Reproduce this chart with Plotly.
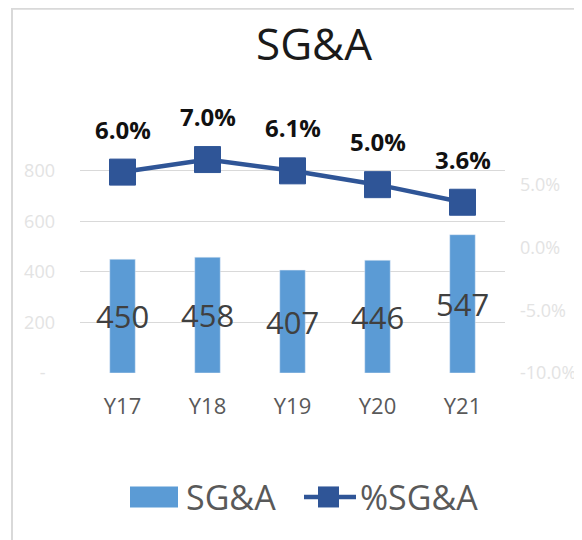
import plotly.graph_objects as go

categories = ["Y17", "Y18", "Y19", "Y20", "Y21"]
sga_values = [450, 458, 407, 446, 547]
sga_pct = [0.060, 0.070, 0.061, 0.050, 0.036]
left_tickvals = [0, 200, 400, 600, 800]
left_ticktext = ["-\u00a0\u00a0", "200", "400", "600", "800"]
right_tickvals = [-0.10, -0.05, 0.0, 0.05]
right_ticktext = ["-10.0%", "-5.0%", "0.0%", "5.0%"]

OFF = 8  # browser body margin
W, H = 582 - OFF, 540 - OFF
PL, PR, PT, PB = 80, 505, 140, 372.7  # plot area in page pixels


def px(x):
    return (x - PL) / (PR - PL)


def py(y):
    return (PB - y) / (PB - PT)


BAR = "#5B9BD5"
LINE = "#2F5597"
FONT = "Open Sans"

left_max = 800 * (PB - PT) / (PB - 170.7)
right_min = -0.10
right_max = -0.10 + (PB - PT) / ((PB - 184.6) / 0.15)

fig = go.Figure()
fig.add_trace(go.Bar(
    x=categories, y=sga_values, name="SG&A", marker_color=BAR,
    width=0.3, yaxis="y", showlegend=False,
))
fig.add_trace(go.Scatter(
    x=categories, y=sga_pct, name="%SG&A", yaxis="y2", mode="lines+markers",
    line=dict(color=LINE, width=4.5),
    marker=dict(symbol="square", size=26, color=LINE, line=dict(color=LINE, width=1)),
    cliponaxis=False, showlegend=False,
))

annotations = []
for c, v in zip(categories, sga_values):
    annotations.append(dict(
        x=c, y=v / 2, xref="x", yref="y", text=str(v), showarrow=False,
        font=dict(family=FONT, size=31, color="#404040"),
    ))
for c, p in zip(categories, sga_pct):
    annotations.append(dict(
        x=c, y=p, xref="x", yref="y2", text=f"<b>{p*100:.1f}%</b>", showarrow=False,
        yshift=43, font=dict(family=FONT, size=24, color="#111111"),
    ))

# custom legend
annotations.append(dict(
    x=px(184), y=py(496.5), xref="paper", yref="paper", xanchor="left", yanchor="middle",
    text="SG&A", showarrow=False, font=dict(family=FONT, size=34, color="#595959"),
))
annotations.append(dict(
    x=px(358), y=py(496.5), xref="paper", yref="paper", xanchor="left", yanchor="middle",
    text="%SG&A", showarrow=False, font=dict(family=FONT, size=34, color="#595959"),
))

shapes = [
    # outer border
    dict(type="rect", xref="paper", yref="paper", x0=px(12), x1=px(620), y0=py(9), y1=py(600),
         line=dict(color="#D9D9D9", width=2), fillcolor="rgba(0,0,0,0)", layer="below"),
    # legend swatches
    dict(type="rect", xref="paper", yref="paper", x0=px(130), x1=px(178), y0=py(507), y1=py(486),
         line=dict(width=0), fillcolor=BAR),
    dict(type="line", xref="paper", yref="paper", x0=px(304), x1=px(356), y0=py(496.5), y1=py(496.5),
         line=dict(color=LINE, width=4.5)),
    dict(type="rect", xref="paper", yref="paper", x0=px(318), x1=px(339), y0=py(507), y1=py(486),
         line=dict(width=0), fillcolor=LINE),
]

fig.update_layout(
    width=W, height=H,
    margin=dict(l=PL - OFF, r=582 - PR, t=PT - OFF, b=540 - PB, pad=0, autoexpand=False),
    paper_bgcolor="white", plot_bgcolor="white",
    font=dict(family=FONT),
    title=dict(text="SG&A", x=px(314), xref="paper", xanchor="center",
               y=1 - (45 - OFF) / H, yref="container", yanchor="middle",
               font=dict(family=FONT, size=44, color="#1a1a1a"), automargin=False),
    xaxis=dict(
        type="category", showgrid=False, zeroline=False, showline=False, ticks="",
        tickfont=dict(family=FONT, size=22, color="#595959"), ticklabelstandoff=18,
        range=[-0.5, 4.5], automargin=False,
    ),
    yaxis=dict(
        range=[0, left_max], tickvals=left_tickvals, ticktext=left_ticktext,
        showgrid=True, gridcolor="#D9D9D9", gridwidth=1, zeroline=False, showline=False,
        ticks="", tickfont=dict(family=FONT, size=18, color="#E3E3E3"),
        ticklabelstandoff=24, automargin=False,
    ),
    yaxis2=dict(
        range=[right_min, right_max], tickvals=right_tickvals, ticktext=right_ticktext,
        overlaying="y", side="right", showgrid=False, zeroline=False, showline=False,
        ticks="", tickfont=dict(family=FONT, size=18, color="#E3E3E3"),
        ticklabelstandoff=14, automargin=False,
    ),
    annotations=annotations,
    shapes=shapes,
    showlegend=False,
)

fig.write_html("out.html")
